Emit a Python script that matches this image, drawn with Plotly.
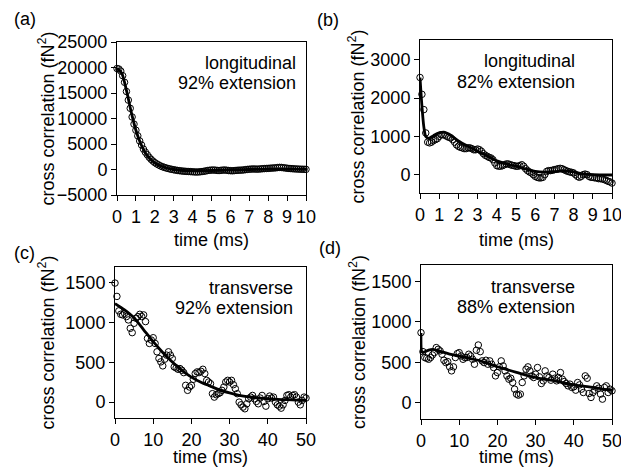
import numpy as np
import plotly.graph_objects as go

# sampling times (ms)
t_ab = np.round(np.arange(0, 10.05, 0.1), 1)
t_cd = np.round(np.arange(0, 50.25, 0.5), 1)

# (a) longitudinal, 92% extension
a_data = [19800, 19700, 19300, 18400, 17100, 15300, 13600, 12000, 10300, 8900,
          7700, 6600, 5600, 4800, 4000, 3400, 2900, 2400, 2000, 1650,
          1350, 1100, 900, 700, 550, 420, 300, 200, 100, 30,
          -50, -120, -180, -230, -280, -320, -350, -380, -400, -420,
          -450, -470, -500, -480, -450, -400, -350, -280, -200, -150,
          -120, -100, -130, -180, -200, -160, -120, -100, -150, -200,
          -230, -250, -220, -180, -150, -130, -120, -80, -30, 20,
          50, 80, 100, 90, 70, 80, 120, 150, 180, 200,
          220, 250, 280, 300, 330, 380, 420, 400, 350, 300,
          250, 200, 180, 150, 120, 100, 80, 60, 50, 40, 30]
a_fit_t = [0, 0.25, 0.5, 0.75, 1.0, 1.25, 1.5, 1.75, 2.0, 2.5, 3.0, 3.5, 4.0, 5.0, 6.0, 7.0, 8.0, 9.0, 10.0]
a_fit = [19900, 18900, 15500, 11300, 7700, 5100, 3300, 2100, 1300, 450, 0, -200, -250, -200, -100, 0, 80, 80, 50]

# (b) longitudinal, 82% extension
b_data = [2540, 2100, 1700, 1090, 850, 830, 850, 890, 915, 940,
          1000, 1045, 1045, 1030, 1000, 975, 960, 915, 850, 780,
          740, 715, 700, 680, 680, 700, 700, 680, 650, 650,
          670, 650, 610, 550, 505, 480, 450, 435, 390, 305,
          235, 220, 220, 235, 260, 280, 280, 260, 245, 235,
          220, 220, 235, 260, 220, 155, 105, 70, 45, 0,
          -45, -70, -85, -85, -70, 0, 85, 105, 105, 115,
          130, 140, 155, 165, 155, 130, 105, 85, 70, 60,
          45, 0, -45, -70, -45, 0, 15, 0, -45, -70,
          -70, -85, -85, -105, -105, -115, -130, -150, -175, -190, -220]
b_fit_t = [0, 0.1, 0.2, 0.3, 0.45, 0.7, 1.0, 1.25, 1.5, 2.0, 2.5, 3.0, 3.5, 4.0, 4.5,
           5.0, 5.5, 6.0, 6.5, 7.0, 7.5, 8.0, 8.5, 9.0, 9.5, 10.0]
b_fit = [2540, 1800, 1250, 1000, 950, 1020, 1090, 1110, 1060, 880, 740, 610, 490, 360, 280,
         220, 150, 85, 65, 80, 100, 70, 20, 0, -5, -10]

# (c) transverse, 92% extension
c_data = [1498, 1330, 1148, 1105, 1097, 1118, 1076, 1034, 928, 874,
          992, 1055, 1076, 1105, 1076, 1097, 1013, 802, 738, 781,
          810, 738, 633, 549, 506, 456, 540, 591, 633, 591,
          549, 443, 430, 413, 422, 401, 371, 211, 148, 190,
          211, 287, 359, 380, 371, 388, 413, 359, 274, 253,
          232, 106, 63, 93, 106, 118, 148, 190, 253, 274,
          253, 274, 219, 169, 106, 0, -34, -63, -84, -21,
          42, 63, 84, 42, 8, -21, 51, 84, 8, -51,
          42, 76, 51, 63, 0, -34, -51, -76, -34, 21,
          84, 93, 63, 84, 93, 63, 0, -34, 21, 63, 51]
c_fit_t = [0, 2.5, 5, 7.5, 10, 12.5, 15, 17.5, 20, 22.5, 25, 27.5, 30, 32.5, 35, 37.5, 40, 42.5, 45, 47.5, 50]
c_fit = [1240, 1160, 1060, 910, 760, 625, 505, 400, 315, 250, 200, 150, 115, 85, 65, 52, 42, 35, 30, 25, 22]

# (d) transverse, 88% extension
d_data = [865, 631, 558, 549, 537, 558, 590, 619, 681, 660,
          640, 599, 525, 496, 508, 443, 394, 443, 558, 607,
          619, 578, 537, 558, 558, 599, 578, 537, 476, 648,
          713, 631, 517, 496, 525, 476, 517, 476, 435, 332,
          373, 443, 517, 455, 394, 332, 291, 303, 250, 168,
          107, 94, 107, 250, 332, 414, 443, 394, 332, 312,
          353, 435, 320, 238, 271, 394, 332, 312, 279, 353,
          303, 271, 312, 373, 291, 262, 238, 209, 230, 189,
          197, 156, 250, 221, 168, 127, 332, 303, 115, 66,
          127, 156, 209, 180, 107, 45, 189, 209, 127, 168, 148]
d_fit_t = [0, 0.15, 0.5, 1, 2, 3, 5, 7.5, 10, 12.5, 15, 17.5, 20, 22.5, 25, 27.5,
           30, 32.5, 35, 37.5, 40, 42.5, 45, 47.5, 50]
d_fit = [860, 640, 620, 630, 650, 660, 635, 600, 575, 550, 525, 485, 445, 410, 375, 340,
         312, 290, 270, 245, 222, 205, 190, 170, 155]

panel_labels = ['(a)', '(b)', '(c)', '(d)']
note_line1 = ['longitudinal', 'longitudinal', 'transverse', 'transverse']
note_line2 = ['92% extension', '82% extension', '92% extension', '88% extension']

panels = [
    dict(t=t_ab, y=a_data, ft=a_fit_t, fy=a_fit,
         xd=[117, 306], yd=[42, 195], xr=[0, 10], dx=1, yr=[-5000, 25000], dy=5000),
    dict(t=t_ab, y=b_data, ft=b_fit_t, fy=b_fit,
         xd=[420, 612], yd=[40, 193], xr=[0, 10], dx=1, yr=[-480, 3520], dy=1000),
    dict(t=t_cd, y=c_data, ft=c_fit_t, fy=c_fit,
         xd=[115, 306], yd=[267, 418], xr=[0, 50], dx=10, yr=[-200, 1700], dy=500),
    dict(t=t_cd, y=d_data, ft=d_fit_t, fy=d_fit,
         xd=[421, 612], yd=[265, 419], xr=[0, 50], dx=10, yr=[-200, 1700], dy=500),
]
# pixel positions in the 629x473 page
lab_pos = [(25, 19), (328, 20), (24, 253), (330, 248)]
ytitle_x = [47, 357, 47, 357]
xtitle_y = [240, 240, 457, 457]
note_right = [298, 577, 295, 577]
note_y = [(63, 83), (61, 82), (288, 308), (287, 307)]

# page body has an 8px margin, so the figure is drawn 8px in from the corner
OFF = 8
W, H = 629 - OFF, 473 - OFF
FONT = 'Liberation Sans, Arial, Helvetica, sans-serif'
FS = 18


def px(x):
    return (x - OFF) / W


def py(y):
    return 1 - (y - OFF) / H


fig = go.Figure()
layout = dict(width=W, height=H, margin=dict(l=0, r=0, t=0, b=0, autoexpand=False),
              paper_bgcolor='white', plot_bgcolor='white', showlegend=False,
              font=dict(family=FONT, size=FS, color='black'), annotations=[])

for i, p in enumerate(panels):
    n = '' if i == 0 else str(i + 1)
    xa, ya = 'x' + n, 'y' + n
    fig.add_trace(go.Scatter(x=p['t'], y=p['y'], mode='markers', xaxis=xa, yaxis=ya, cliponaxis=False,
                             marker=dict(symbol='circle-open', size=6.5, color='black', line=dict(width=1))))
    fig.add_trace(go.Scatter(x=p['ft'], y=p['fy'], mode='lines', xaxis=xa, yaxis=ya,
                             line=dict(color='black', width=2.8, shape='spline', smoothing=0.8)))
    ax = dict(showline=True, linecolor='black', linewidth=1, mirror=True, showgrid=False, zeroline=False,
              ticks='outside', ticklen=5, tickcolor='black', tickwidth=1, automargin=False,
              tickfont=dict(size=FS), tickformat='d', ticklabeloverflow='allow')
    layout['xaxis' + n] = dict(ax, domain=[px(p['xd'][0]), px(p['xd'][1])], range=p['xr'], dtick=p['dx'],
                               anchor=ya)
    layout['yaxis' + n] = dict(ax, domain=[py(p['yd'][1]), py(p['yd'][0])], range=p['yr'],
                               dtick=p['dy'], anchor=xa)
    common = dict(xref='paper', yref='paper', showarrow=False, xanchor='center', yanchor='middle',
                  font=dict(size=FS))
    layout['annotations'].append(dict(common, text=panel_labels[i], x=px(lab_pos[i][0]), y=py(lab_pos[i][1])))
    layout['annotations'].append(dict(common, text='time (ms)', x=px((p['xd'][0] + p['xd'][1]) / 2),
                                      y=py(xtitle_y[i])))
    layout['annotations'].append(dict(common, text='cross correlation (fN<sup>2</sup>)', textangle=-90,
                                      x=px(ytitle_x[i]), y=py((p['yd'][0] + p['yd'][1]) / 2)))
    for txt, yy in zip([note_line1[i], note_line2[i]], note_y[i]):
        layout['annotations'].append(dict(common, text=txt, xanchor='right', x=px(note_right[i]), y=py(yy)))

fig.update_layout(layout)
fig.write_html("out.html")
